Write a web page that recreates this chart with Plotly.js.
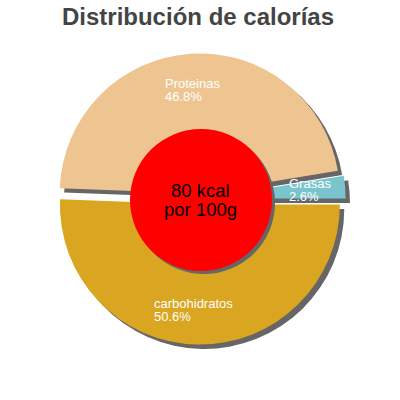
<!DOCTYPE html>
<html>
<head>
<meta charset="utf-8">
<script src="https://cdn.plot.ly/plotly-3.0.1.min.js"></script>
<style>
  html, body { margin: 0; padding: 0; background: #fff; }
  #chart { width: 400px; height: 400px; }
</style>
</head>
<body>
<div id="chart"></div>
<script>
// calorie split (percent of kcal)
var labels = ["carbohidratos", "Proteinas", "Grasas"];
var values = [50.6, 46.8, 2.6];
var colors = ["#DAA520", "#EEC591", "#7AC5CD"];
var kcal = 80;

// where each slice label goes: left x, middle y of first line (pixels)
var labelPos = [
  { x: 152, y: 303 },
  { x: 163, y: 83 },
  { x: 287, y: 183 }
];

var pull = 0.04;
var dom = { x: [0.136, 0.864], y: [0.1385, 0.8665] };
var sh = 0.011; // shadow offset

// grey copy of the pie underneath, shifted a bit right/down
var shadow = {
  type: "pie",
  values: values,
  labels: labels,
  sort: false,
  direction: "clockwise",
  rotation: 90,
  pull: pull,
  textinfo: "none",
  hoverinfo: "skip",
  showlegend: false,
  marker: { colors: values.map(function () { return "#666666"; }), line: { width: 0 } },
  domain: { x: [dom.x[0] + sh, dom.x[1] + sh], y: [dom.y[0] - sh, dom.y[1] - sh] }
};

var pie = {
  type: "pie",
  values: values,
  labels: labels,
  sort: false,
  direction: "clockwise",
  rotation: 90,
  pull: pull,
  textinfo: "none",
  showlegend: false,
  marker: { colors: colors, line: { width: 0 } },
  domain: dom
};

var font = "Liberation Sans, Arial, sans-serif";

function note(txt, px, py, size, color, anchor) {
  return {
    xref: "paper", yref: "paper",
    x: px / 400, y: 1 - py / 400,
    xanchor: anchor, yanchor: "middle", align: anchor,
    showarrow: false,
    text: txt,
    font: { family: font, size: size, color: color }
  };
}

var annotations = [];
labels.forEach(function (l, i) {
  annotations.push(note(l, labelPos[i].x, labelPos[i].y, 13, "#ffffff", "left"));
  annotations.push(note(values[i].toFixed(1) + "%", labelPos[i].x, labelPos[i].y + 13, 13, "#ffffff", "left"));
});

annotations.push(note(kcal + " kcal", 200, 190, 18.5, "#000000", "center"));
annotations.push(note("por 100g", 200, 209, 18.5, "#000000", "center"));

// red centre disc + its shadow
var cx = 201, cy = 200, r = 71;
var shapes = [
  {
    type: "circle", xref: "paper", yref: "paper",
    x0: (cx - r + 3) / 400, x1: (cx + r + 3) / 400,
    y0: 1 - (cy + r + 3) / 400, y1: 1 - (cy - r + 3) / 400,
    fillcolor: "#666666", line: { width: 0 }
  },
  {
    type: "circle", xref: "paper", yref: "paper",
    x0: (cx - r) / 400, x1: (cx + r) / 400,
    y0: 1 - (cy + r) / 400, y1: 1 - (cy - r) / 400,
    fillcolor: "#ff0000", line: { width: 0 }
  }
];

var layout = {
  width: 400,
  height: 400,
  margin: { l: 0, r: 0, t: 0, b: 0 },
  paper_bgcolor: "#ffffff",
  title: {
    text: "<b>Distribución de calorías</b>",
    x: 0.495, xanchor: "center",
    y: 1 - 17 / 400, yanchor: "middle",
    font: { family: font, size: 24, color: "#444444" }
  },
  shapes: shapes,
  annotations: annotations
};

Plotly.newPlot("chart", [shadow, pie], layout, { displayModeBar: false, staticPlot: true });
</script>
</body>
</html>
